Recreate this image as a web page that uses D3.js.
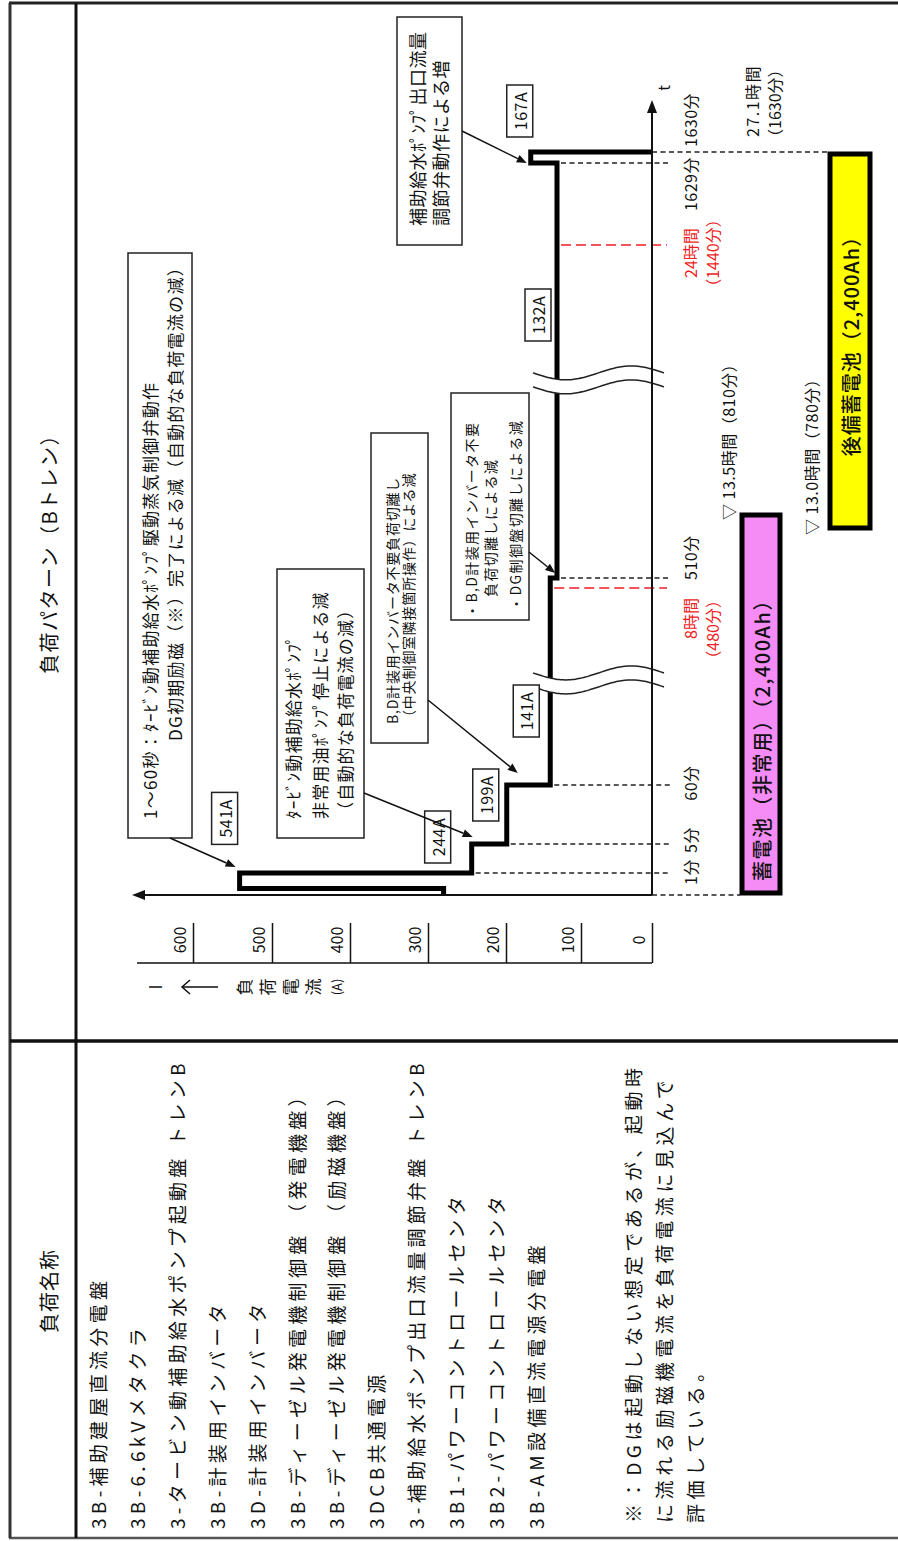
<!DOCTYPE html>
<html>
<head>
<meta charset="utf-8">
<script src="https://cdn.jsdelivr.net/npm/d3@7"></script>
<style>
  body { margin: 0; background: #fff; }
  svg { display: block; }
  text { font-family: "Noto Sans CJK JP", "Noto Sans", sans-serif; fill: #111; }
</style>
</head>
<body>
<div id="chart"></div>
<script>
// Load pattern (B train) - the page is drawn landscape and turned a quarter left

const W = 898, H = 1541;

// ---- data ----
const loadNames = [
  "3B-補助建屋直流分電盤",
  "3B-6.6kVメタクラ",
  "3-タービン動補助給水ポンプ起動盤 トレンB",
  "3B-計装用インバータ",
  "3D-計装用インバータ",
  "3B-ディーゼル発電機制御盤 （発電機盤）",
  "3B-ディーゼル発電機制御盤 （励磁機盤）",
  "3DCB共通電源",
  "3-補助給水ポンプ出口流量調節弁盤 トレンB",
  "3B1-パワーコントロールセンタ",
  "3B2-パワーコントロールセンタ",
  "3B-AM設備直流電源分電盤"
];
const noteLines = [
  "※：DGは起動しない想定であるが、起動時",
  "に流れる励磁機電流を負荷電流に見込んで",
  "評価している。"
];

// step pattern: current (A) from each time (min) until the next one
const stepTimes = [0, 0.3, 1, 5, 60, 510, 1629, 1630];
const stepCurrents = [280, 541, 244, 199, 141, 132, 167, 0];

// broken time axis: knots of the piecewise scale
const timeKnots = [0, 1, 5, 60, 480, 510, 780, 810, 1440, 1629, 1630];
const currentTicks = [0, 100, 200, 300, 400, 500, 600];

const markTimes = [1, 5, 60, 510, 1629];
const markLabels = ["1分", "5分", "60分", "510分", "1629分"];
const redTimes = [480, 1440];
const redLabels = [["8時間", "（480分）"], ["24時間", "（1440分）"]];
const breakTimes = [284, 1123];

const batteryNames = ["蓄電池（非常用）（2,400Ah）", "後備蓄電池（2,400Ah）"];
const batteryStart = [0, 780];
const batteryEnd = [810, 1630];
const batteryEndText = ["▽ 13.5時間（810分）", "▽ 13.0時間（780分）"];

const callouts = [
  ["1～60秒：ﾀｰﾋﾞﾝ動補助給水ﾎﾟﾝﾌﾟ駆動蒸気制御弁動作", "DG初期励磁（※）完了による減（自動的な負荷電流の減）"],
  ["ﾀｰﾋﾞﾝ動補助給水ﾎﾟﾝﾌﾟ", "非常用油ﾎﾟﾝﾌﾟ停止による減", "（自動的な負荷電流の減）"],
  ["B,D計装用インバータ不要負荷切離し", "（中央制御室隣接箇所操作）による減"],
  ["・B,D計装用インバータ不要", "負荷切離しによる減", "・DG制御盤切離しによる減"],
  ["補助給水ﾎﾟﾝﾌﾟ出口流量", "調節弁動作による増"]
];

// ---- layout (landscape coords) ----
const timePos = [646, 668, 697, 756, 953, 963, 1011, 1028, 1296, 1378, 1389];
const currentPos = [652, 581, 506, 428, 350, 272, 193];
const labelOffsets = [null, [70, -15], [36, -34], [49, -21], [74, -24], [263, -19], [52, -11], null];
const calloutLayout = [
  { box: [703, 1288, 128, 192], base: [157, 182], start: [722, 800], size: 17, ls: 1.3, from: [703, 170], tip: [1, 541, 6, -4] },
  { box: [703, 972, 277, 364], base: [300, 327, 352], start: [722, 722, 722], size: 17, ls: 1.2, from: [748, 364], tip: [5, 244, 7, 1] },
  { box: [798, 1108, 371, 428], base: [398, 414], start: [817, 817], size: 14, ls: 0.8, from: [841, 428], tip: [60, 199, 12, 11] },
  { box: [921, 1148, 451, 529], base: [477, 496, 521], start: [923, 944, 930], size: 14, ls: 1.4, from: [989, 529], tip: [510, 141, 5, 5] },
  { box: [1296, 1524, 397, 462], base: [425, 448], start: [1315, 1315], size: 18, ls: 0.5, from: [1410, 462], tip: [1629, 167, 0, -4] }
];
const batteryBand = [[740, 782], [828, 872]];
const batteryColor = ["#f58cf5", "#ffff00"];

const svg = d3.select("#chart").append("svg")
  .attr("width", W)
  .attr("height", H)
  .attr("viewBox", [0, 0, W, H]);

const g = svg.append("g").attr("transform", `translate(0,${H}) rotate(-90)`);

const x = d3.scaleLinear().domain(timeKnots).range(timePos);
const y = d3.scaleLinear().domain(currentTicks).range(currentPos);

function arrow(sel, x1, y1, x2, y2, len, half, sw) {
  const a = Math.atan2(y2 - y1, x2 - x1);
  const bx = x2 - len * Math.cos(a), by = y2 - len * Math.sin(a);
  sel.append("line")
    .attr("x1", x1).attr("y1", y1).attr("x2", bx).attr("y2", by)
    .attr("stroke", "#111").attr("stroke-width", sw);
  sel.append("path")
    .attr("d", `M${x2},${y2}L${bx - half * Math.sin(a)},${by + half * Math.cos(a)}L${bx + half * Math.sin(a)},${by - half * Math.cos(a)}Z`)
    .attr("fill", "#111");
}

// ---- table frame ----
const frame = g.append("g").attr("fill", "none");
frame.append("line").attr("x1", 3).attr("x2", 3).attr("y1", 9).attr("y2", 905).attr("stroke", "#555").attr("stroke-width", 2.5);
frame.append("line").attr("x1", 1538).attr("x2", 1538).attr("y1", 9).attr("y2", 905).attr("stroke", "#222").attr("stroke-width", 3);
frame.append("line").attr("x1", 3).attr("x2", 1538).attr("y1", 10).attr("y2", 10).attr("stroke", "#333").attr("stroke-width", 3);
frame.append("line").attr("x1", 3).attr("x2", 1538).attr("y1", 76).attr("y2", 76).attr("stroke", "#111").attr("stroke-width", 3);
frame.append("line").attr("x1", 500).attr("x2", 500).attr("y1", 10).attr("y2", 905).attr("stroke", "#111").attr("stroke-width", 3.5);

g.append("text").attr("x", 250).attr("y", 48)
  .attr("text-anchor", "middle").attr("dominant-baseline", "central")
  .attr("font-size", 20).attr("letter-spacing", 1)
  .text("負荷名称");
g.append("text").attr("x", 992).attr("y", 48)
  .attr("text-anchor", "middle").attr("dominant-baseline", "central")
  .attr("font-size", 20).attr("letter-spacing", 1.5)
  .text("負荷パターン（Bトレン）");

// load names
const row = d3.scalePoint().domain(loadNames).range([97, 535]);
g.append("g").selectAll("text")
  .data(loadNames)
  .join("text")
  .attr("x", 12)
  .attr("y", d => row(d))
  .attr("dominant-baseline", "central")
  .attr("font-size", 19)
  .attr("letter-spacing", 4.3)
  .text(d => d);

g.append("g").selectAll("text")
  .data(noteLines)
  .join("text")
  .attr("x", 18)
  .attr("y", (d, i) => 632 + i * 31)
  .attr("dominant-baseline", "central")
  .attr("font-size", 19)
  .attr("letter-spacing", 4.6)
  .text(d => d);

// ---- current scale (0-600 A) ----
const axisX = 578;
g.append("line").attr("x1", axisX).attr("x2", axisX).attr("y1", 137).attr("y2", y(0))
  .attr("stroke", "#111").attr("stroke-width", 1.5);
const yAxis = g.append("g")
  .attr("transform", `translate(${axisX},0)`)
  .call(d3.axisRight(y).tickValues(currentTicks).tickSize(40).tickSizeOuter(0));
yAxis.select(".domain").remove();
yAxis.selectAll(".tick line").attr("stroke", "#111").attr("stroke-width", 1.5);
yAxis.selectAll(".tick text")
  .attr("x", 23).attr("dy", -8).attr("text-anchor", "middle")
  .attr("font-size", 16).attr("fill", "#111")
  .attr("font-family", "\"Noto Sans CJK JP\", sans-serif");

// I ← 負荷電流(A)  (vertical in landscape)
const lab = g.append("g");
lab.append("text").attr("x", 554).attr("y", 154).attr("text-anchor", "middle")
  .attr("dominant-baseline", "central").attr("font-size", 17).text("I");
lab.append("line").attr("x1", 554).attr("x2", 554).attr("y1", 218).attr("y2", 182)
  .attr("stroke", "#111").attr("stroke-width", 1.5);
lab.append("path").attr("d", "M547,190L554,182L561,190").attr("fill", "none")
  .attr("stroke", "#111").attr("stroke-width", 1.5);
["負", "荷", "電", "流"].forEach((c, i) => {
  lab.append("text").attr("x", 554).attr("y", 243 + i * 23).attr("text-anchor", "middle")
    .attr("dominant-baseline", "central").attr("font-size", 17).text(c);
});
lab.append("text").attr("x", 554).attr("y", 336).attr("text-anchor", "middle")
  .attr("dominant-baseline", "central").attr("font-size", 13).text("(A)");

// ---- batteries ----
const bat = g.append("g");
batteryNames.forEach((name, i) => {
  const [b0, b1] = batteryBand[i];
  bat.append("rect")
    .attr("x", x(batteryStart[i]) + 2)
    .attr("width", x(batteryEnd[i]) - x(batteryStart[i]) - 4)
    .attr("y", b0 + 2)
    .attr("height", b1 - b0 - 4)
    .attr("fill", batteryColor[i])
    .attr("stroke", "#000")
    .attr("stroke-width", 5);
});
bat.append("text")
  .attr("x", x(batteryStart[0]) + 14).attr("y", (batteryBand[0][0] + batteryBand[0][1]) / 2)
  .attr("dominant-baseline", "central").attr("font-size", 20).attr("letter-spacing", 1.5)
  .attr("font-weight", 500)
  .text(batteryNames[0]);
bat.append("text")
  .attr("x", (x(batteryStart[1]) + x(batteryEnd[1])) / 2).attr("y", (batteryBand[1][0] + batteryBand[1][1]) / 2)
  .attr("text-anchor", "middle")
  .attr("dominant-baseline", "central").attr("font-size", 20).attr("letter-spacing", 1)
  .attr("font-weight", 500)
  .text(batteryNames[1]);
bat.append("text").attr("x", x(batteryEnd[0]) - 7).attr("y", 735)
  .attr("font-size", 16).attr("letter-spacing", 0.5).text(batteryEndText[0]);
bat.append("text").attr("x", x(batteryStart[1]) - 5).attr("y", 818)
  .attr("font-size", 16).attr("letter-spacing", 0.5).text(batteryEndText[1]);
bat.append("text").attr("x", x(1630) + 15).attr("y", 759)
  .attr("font-size", 16).attr("letter-spacing", 1.5).text("27.1時間");
bat.append("text").attr("x", x(1630) + 7).attr("y", 781)
  .attr("font-size", 16).text("（1630分）");

// ---- guide lines ----
const currentAt = t => {
  let v = stepCurrents[0];
  stepTimes.forEach((s, i) => { if (s <= t) v = stepCurrents[i]; });
  return v;
};
const guides = g.append("g").attr("fill", "none");
markTimes.forEach(t => {
  const lo = Math.min(currentAt(t), currentAt(t - 0.01));
  guides.append("line")
    .attr("x1", x(t)).attr("x2", x(t))
    .attr("y1", y(lo) + 4).attr("y2", y(0) + 18)
    .attr("stroke", "#222").attr("stroke-width", 1.5).attr("stroke-dasharray", "5,3.5");
});
redTimes.forEach(t => {
  guides.append("line")
    .attr("x1", x(t)).attr("x2", x(t))
    .attr("y1", y(currentAt(t)) + 4).attr("y2", y(0) + 15)
    .attr("stroke", "#ee1c25").attr("stroke-width", 1.5).attr("stroke-dasharray", "10,5");
});
guides.append("line").attr("x1", x(0)).attr("x2", x(0))
  .attr("y1", y(0)).attr("y2", batteryBand[0][0])
  .attr("stroke", "#222").attr("stroke-width", 1.5).attr("stroke-dasharray", "5,3.5");
guides.append("line").attr("x1", x(1630)).attr("x2", x(1630))
  .attr("y1", y(0)).attr("y2", batteryBand[1][0])
  .attr("stroke", "#222").attr("stroke-width", 1.5).attr("stroke-dasharray", "5,3.5");

// time labels
const markAnchor = ["middle", "middle", "middle", "start", "end"];
const markShift = [1, 4, 2, -2, 6];
g.append("g").selectAll("text")
  .data(markTimes)
  .join("text")
  .attr("x", (t, i) => x(t) + markShift[i])
  .attr("y", 697)
  .attr("text-anchor", (t, i) => markAnchor[i])
  .attr("font-size", 16).attr("letter-spacing", 0.5)
  .text((t, i) => markLabels[i]);
g.append("text").attr("x", x(1630) + 5).attr("y", 697)
  .attr("font-size", 16).attr("letter-spacing", 0.5).text("1630分");

const redAnchor = ["end", "middle"];
const redShift = [-10, -8];
redTimes.forEach((t, i) => {
  redLabels[i].forEach((s, k) => {
    g.append("text")
      .attr("x", x(t) + redShift[i] + (k && i === 0 ? 6 : 0))
      .attr("y", 697 + k * 22)
      .attr("text-anchor", redAnchor[i])
      .attr("font-size", 16)
      .style("fill", "#ee1c25")
      .text(s);
  });
});

// ---- load step line ----
const steps = stepTimes.map((t, i) => ({ t, i: stepCurrents[i] }));
g.append("path")
  .datum(steps)
  .attr("d", d3.line().x(d => x(d.t)).y(d => y(d.i)).curve(d3.curveStepAfter))
  .attr("fill", "none")
  .attr("stroke", "#000")
  .attr("stroke-width", 5)
  .attr("stroke-linejoin", "miter");

// ---- axis breaks ----
breakTimes.forEach(t => {
  const xc = x(t), y0 = 533, y1 = 664;
  const wave = off => d3.range(0, 41).map(k => [xc + off - 7 * Math.sin(2 * Math.PI * k / 40), y0 + (y1 - y0) * k / 40]);
  const a = wave(7), b = wave(-7);
  const band = a.concat(b.slice().reverse());
  g.append("path").attr("d", "M" + band.join("L") + "Z").attr("fill", "#fff");
  const ln = d3.line().curve(d3.curveBasis);
  g.append("path").attr("d", ln(a)).attr("fill", "none").attr("stroke", "#222").attr("stroke-width", 1.5);
  g.append("path").attr("d", ln(b)).attr("fill", "none").attr("stroke", "#222").attr("stroke-width", 1.5);
});

// ---- axes ----
const axes = g.append("g");
arrow(axes, x(0), y(0), 1441, y(0), 13, 5, 2);
arrow(axes, x(0), y(0), x(0), 132, 13, 5, 2);
axes.append("text").attr("x", 1453).attr("y", 670).attr("text-anchor", "middle")
  .attr("font-size", 15).text("t");

// ---- value labels ----
const vl = g.append("g");
steps.forEach((d, k) => {
  const off = labelOffsets[k];
  if (!off) return;
  const cx = x(d.t) + off[0], cy = y(d.i) + off[1];
  vl.append("rect").attr("x", cx - 26).attr("y", cy - 13).attr("width", 52).attr("height", 26)
    .attr("fill", "#fff").attr("stroke", "#222").attr("stroke-width", 1.5);
  vl.append("text").attr("x", cx).attr("y", cy).attr("text-anchor", "middle")
    .attr("dominant-baseline", "central").attr("font-size", 16).attr("letter-spacing", 0.5)
    .text(`${d.i}A`);
});

// ---- callouts ----
callouts.forEach((lines, k) => {
  const L = calloutLayout[k];
  const c = g.append("g");
  c.append("rect")
    .attr("x", L.box[0]).attr("y", L.box[2])
    .attr("width", L.box[1] - L.box[0]).attr("height", L.box[3] - L.box[2])
    .attr("fill", "#fff").attr("stroke", "#222").attr("stroke-width", 1.5);
  lines.forEach((s, j) => {
    c.append("text").attr("x", L.start[j]).attr("y", L.base[j])
      .attr("font-size", L.size).attr("letter-spacing", L.ls).text(s);
  });
  const [tt, ii, dx, dy] = L.tip;
  arrow(c, L.from[0], L.from[1], x(tt) + dx, y(ii) + dy, 10, 4, 1.5);
});
</script>
</body>
</html>
